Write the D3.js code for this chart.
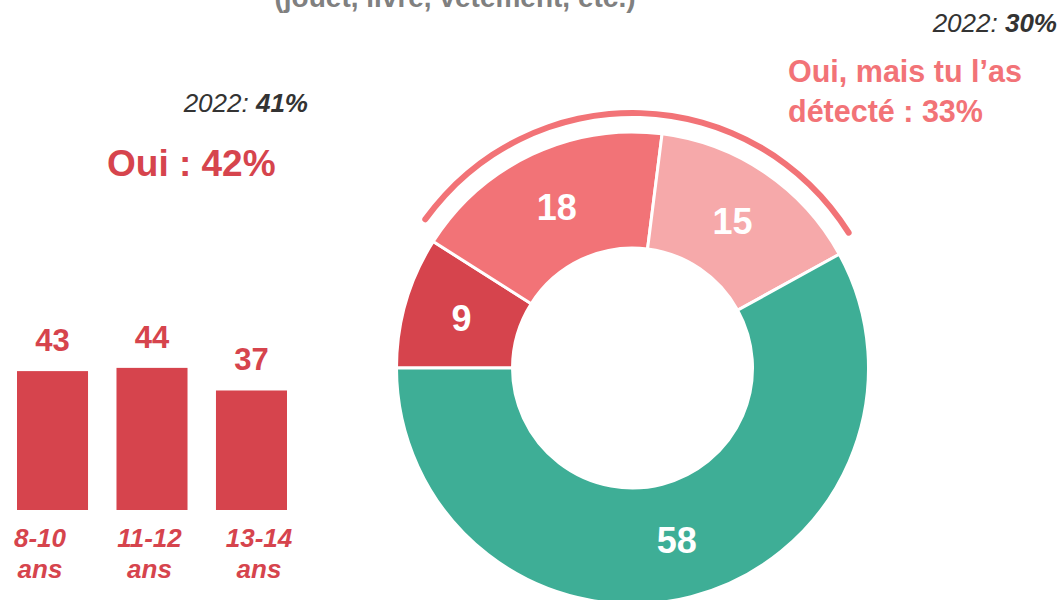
<!DOCTYPE html>
<html>
<head>
<meta charset="utf-8">
<script src="https://cdn.jsdelivr.net/npm/d3@7"></script>
<style>
  html, body { margin: 0; padding: 0; background: #ffffff; }
  svg { display: block; font-family: "Liberation Sans", Arial, sans-serif; }
</style>
</head>
<body>
<svg id="chart" width="1061" height="600"></svg>
<script>
// Bar chart: share of "Oui" by age group
const ageGroups = ["8-10 ans", "11-12 ans", "13-14 ans"];
const ageValues = [43, 44, 37];

// Donut: breakdown of answers
const donutLabels = ["Oui", "Oui, détecté (a)", "Oui, détecté (b)", "Non"];
const donutValues = [9, 18, 15, 58];
const donutColors = ["#d6444d", "#f27377", "#f6a9aa", "#3eae96"];

// Headline annotations
const titleLine = "(jouet, livre, vêtement, etc.)";
const ouiLabel = "Oui : 42%";
const detectedLines = ["Oui, mais tu l’as", "détecté : 33%"];
const prevOui = ["2022: ", "41%"];
const prevDetected = ["2022: ", "30%"];

const RED = "#d6444d";
const PINK = "#f27377";
const svg = d3.select("#chart");

// ---- Title (second line, running off the top edge) ----
svg.append("text")
  .attr("x", 455).attr("y", 7)
  .attr("text-anchor", "middle")
  .attr("font-size", 28).attr("font-weight", "bold")
  .attr("fill", "#808080")
  .text(titleLine);

// ---- Bars ----
const x = d3.scaleBand().domain(ageGroups).range([17, 287]).paddingInner(0.286).paddingOuter(0);
const y = d3.scaleLinear().domain([0, 100]).range([510, 187]);
const labelX = d3.scalePoint().domain(ageGroups).range([40, 259]);

const bars = svg.append("g");
bars.selectAll("rect").data(ageValues).join("rect")
  .attr("x", (d, i) => x(ageGroups[i]))
  .attr("y", d => y(d))
  .attr("width", x.bandwidth())
  .attr("height", d => y(0) - y(d))
  .attr("fill", RED);

bars.selectAll("text.val").data(ageValues).join("text")
  .attr("class", "val")
  .attr("x", (d, i) => x(ageGroups[i]) + x.bandwidth() / 2)
  .attr("y", d => y(d) - 20)
  .attr("text-anchor", "middle")
  .attr("font-size", 31).attr("font-weight", "bold")
  .attr("fill", RED)
  .text(d => d);

const cat = bars.selectAll("text.cat").data(ageGroups).join("text")
  .attr("class", "cat")
  .attr("text-anchor", "middle")
  .attr("font-size", 26).attr("font-weight", "bold").attr("font-style", "italic")
  .attr("fill", RED);
cat.selectAll("tspan").data(d => d.split(" ").map(s => ({ s, c: d }))).join("tspan")
  .attr("x", d => labelX(d.c))
  .attr("y", (d, i) => 547 + i * 31)
  .text(d => d.s);

// ---- Donut ----
const cx = 632.5, cy = 368;
const rIn = 120, rOut = 236;
const pie = d3.pie().sort(null).startAngle(-Math.PI / 2).endAngle(3 * Math.PI / 2);
const arcs = pie(donutValues);
const arc = d3.arc().innerRadius(rIn).outerRadius(rOut);
const g = svg.append("g").attr("transform", `translate(${cx},${cy})`);

g.selectAll("path.slice").data(arcs).join("path")
  .attr("class", "slice")
  .attr("d", arc)
  .attr("fill", (d, i) => donutColors[i])
  .attr("stroke", "#ffffff").attr("stroke-width", 3).attr("stroke-linejoin", "miter");

g.selectAll("text.slice-label").data(arcs).join("text")
  .attr("class", "slice-label")
  .attr("transform", d => `translate(${arc.centroid(d)})`)
  .attr("text-anchor", "middle")
  .attr("dy", "0.36em")
  .attr("font-size", 36).attr("font-weight", "bold")
  .attr("fill", "#ffffff")
  .text(d => d.data);

// Bracket arc over the two "détecté" slices
const pad = 0.045;
const bracket = d3.arc().innerRadius(252).outerRadius(258).cornerRadius(3);
g.append("path")
  .attr("d", bracket({ startAngle: arcs[1].startAngle + pad, endAngle: arcs[2].endAngle - pad }))
  .attr("fill", PINK);

// ---- Annotations ----
svg.append("text")
  .attr("x", 107).attr("y", 176)
  .attr("font-size", 37).attr("font-weight", "bold")
  .attr("fill", RED)
  .text(ouiLabel);

const det = svg.append("text")
  .attr("font-size", 30.5).attr("font-weight", "bold")
  .attr("fill", PINK);
det.selectAll("tspan").data(detectedLines).join("tspan")
  .attr("x", 788).attr("y", (d, i) => 82 + i * 40)
  .text(d => d);

function prevYear(parts, xr, yb) {
  const t = svg.append("text")
    .attr("x", xr).attr("y", yb)
    .attr("text-anchor", "end")
    .attr("font-size", 26).attr("font-style", "italic")
    .attr("fill", "#333333");
  t.append("tspan").text(parts[0]);
  t.append("tspan").attr("font-weight", "bold").text(parts[1]);
}
prevYear(prevOui, 308, 112);
prevYear(prevDetected, 1057, 32);
</script>
</body>
</html>
